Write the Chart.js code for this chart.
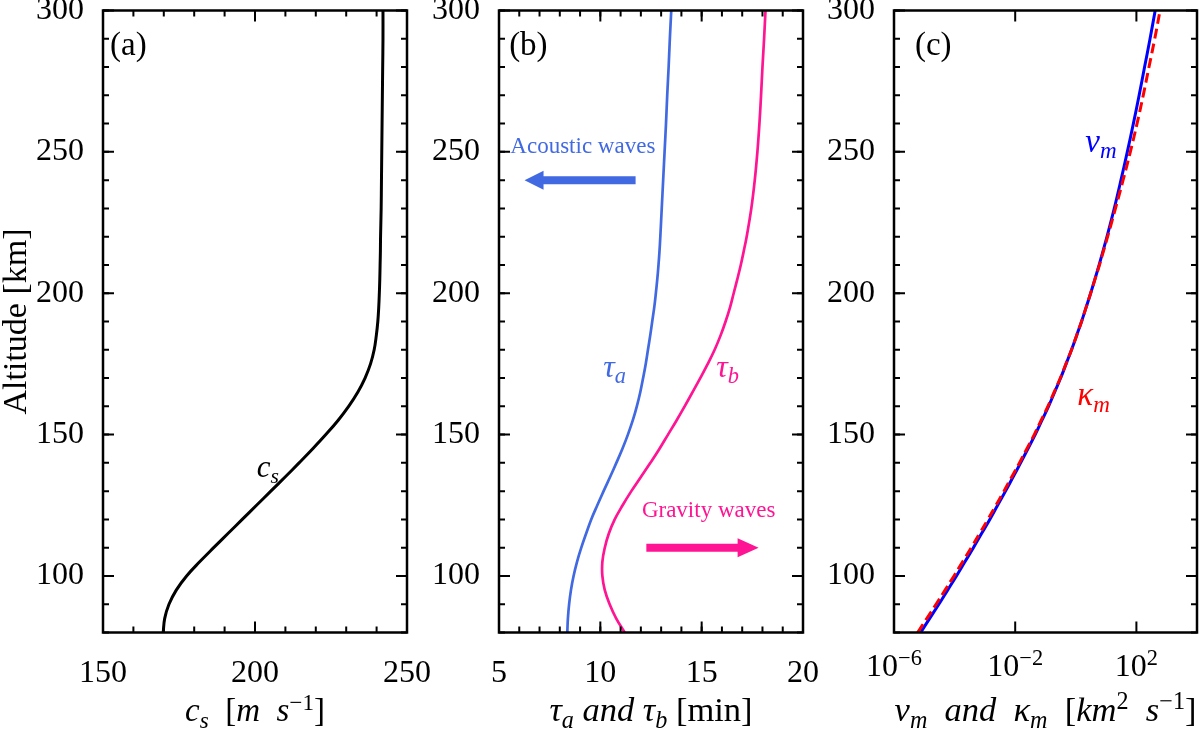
<!DOCTYPE html>
<html>
<head>
<meta charset="utf-8">
<script src="https://cdn.jsdelivr.net/npm/chart.js@4.4.1/dist/chart.umd.min.js"></script>
<style>
  html, body { margin: 0; padding: 0; background: #fff; }
  #wrap { position: relative; width: 1200px; height: 733px; overflow: hidden; }
  canvas { position: absolute; left: 0; top: 0; }
</style>
</head>
<body>
<div id="wrap">
  <canvas id="chartA" width="1200" height="733"></canvas>
  <canvas id="chartB" width="1200" height="733"></canvas>
  <canvas id="chartC" width="1200" height="733"></canvas>
</div>
<script>
// altitude grid [km]
const altitude = [80, 85, 90, 95, 100, 105, 110, 115, 120, 125, 130, 135, 140, 145, 150,
                  155, 160, 165, 170, 175, 180, 185, 190, 195, 200, 205, 210, 215, 220,
                  230, 240, 250, 260, 270, 280, 290, 300]

// (a) sound speed [m/s]
const soundSpeed = [169.8, 170.3, 171.7, 174.1, 177.5, 181.8, 186.4, 191.1, 195.8, 200.5, 205.2, 209.9, 214.5, 219.0, 223.3,
                    227.3, 230.8, 233.8, 236.2, 238.0, 239.2, 239.9, 240.4, 240.7, 240.9, 241.05, 241.15, 241.25, 241.3,
                    241.5, 241.6, 241.7, 241.8, 241.9, 242.0, 242.1, 242.1]

// (b) acoustic cut-off and buoyancy periods [min]
const tauA = [8.37, 8.40, 8.46, 8.55, 8.68, 8.85, 9.06, 9.30, 9.55, 9.85, 10.16, 10.48, 10.79, 11.09, 11.36,
              11.60, 11.80, 11.97, 12.11, 12.24, 12.35, 12.46, 12.56, 12.66, 12.74, 12.81, 12.87, 12.92, 12.96,
              13.03, 13.10, 13.17, 13.24, 13.30, 13.37, 13.43, 13.50]
const tauB = [11.20, 10.78, 10.46, 10.22, 10.10, 10.10, 10.22, 10.42, 10.71, 11.10, 11.53, 12.00, 12.47, 12.92, 13.34,
              13.76, 14.16, 14.55, 14.93, 15.30, 15.64, 15.93, 16.18, 16.40, 16.58, 16.76, 16.93, 17.08, 17.22,
              17.45, 17.62, 17.75, 17.85, 17.93, 18.00, 18.08, 18.15]

// (c) molecular viscosity and thermal diffusivity [km^2/s]
const nuM = [7.6e-6, 1.51e-5, 3.02e-5, 5.89e-5, 1.15e-4, 2.19e-4, 4.17e-4, 7.76e-4, 1.45e-3, 2.63e-3, 4.79e-3, 8.51e-3, 0.0151, 0.0263, 0.0457,
             0.0759, 0.126, 0.200, 0.316, 0.479, 0.724, 1.06, 1.55, 2.19, 3.09, 4.27, 5.89, 7.94, 10.7,
             18.6, 30.9, 50.1, 79.4, 123, 186, 282, 417]
const kappaM = [6.03e-6, 1.22e-5, 2.45e-5, 4.84e-5, 9.55e-5, 1.84e-4, 3.55e-4, 6.68e-4, 1.26e-3, 2.32e-3, 4.27e-3, 7.67e-3, 0.0138, 0.0243, 0.0427,
                0.0716, 0.120, 0.193, 0.309, 0.473, 0.724, 1.06, 1.55, 2.19, 3.09, 4.32, 6.03, 8.22, 11.2,
                20.4, 36.3, 63.1, 105, 168, 260, 403, 603]

// tick labels
const altTicks = [100, 150, 200, 250, 300]
const speedTicks = [150, 200, 250]
const periodTicks = [5, 10, 15, 20]
const diffTicks = [1e-6, 1e-2, 1e2]

const SERIF = '"Liberation Serif", "DejaVu Serif", serif'
const BLUE = '#4169e1'
const PINK = '#ff1493'
Chart.defaults.font.family = SERIF

const range = (a, b, s) => { const r = []; for (let v = a; v <= b + 1e-9; v += s) r.push(v); return r }

// text with italic / sub / superscript pieces
function drawRich(ctx, parts, x, y, size, color, align) {
  const items = parts.map(([t, f = '']) => {
    const small = f.includes('_') || f.includes('^')
    const s = small ? size * 0.7 : size
    const font = (f.includes('i') ? 'italic ' : '') + s + 'px ' + SERIF
    ctx.font = font
    const dy = f.includes('_') ? size * 0.2 : f.includes('^') ? -size * 0.34 : 0
    return { t, font, dy, w: ctx.measureText(t).width }
  })
  const total = items.reduce((s, it) => s + it.w, 0)
  let cx = align === 'center' ? x - total / 2 : x
  ctx.fillStyle = color
  ctx.textAlign = 'left'
  ctx.textBaseline = 'alphabetic'
  for (const it of items) {
    ctx.font = it.font
    ctx.fillText(it.t, cx, y + it.dy)
    cx += it.w
  }
}

// frame, inward ticks, arrows and text notes
const decorPlugin = {
  id: 'decor',
  afterDatasetsDraw(chart, args, opts) {
    const { ctx, chartArea: a, scales: { x, y } } = chart
    ctx.save()
    ctx.strokeStyle = '#000'
    ctx.lineWidth = 2

    const hTick = (v, len) => {
      const px = x.getPixelForValue(v)
      ctx.beginPath()
      ctx.moveTo(px, a.bottom); ctx.lineTo(px, a.bottom - len)
      ctx.moveTo(px, a.top); ctx.lineTo(px, a.top + len)
      ctx.stroke()
    }
    const vTick = (v, len) => {
      const py = y.getPixelForValue(v)
      ctx.beginPath()
      ctx.moveTo(a.left, py); ctx.lineTo(a.left + len, py)
      ctx.moveTo(a.right, py); ctx.lineTo(a.right - len, py)
      ctx.stroke()
    }
    ;(opts.xMinor || []).forEach(v => hTick(v, 6))
    ;(opts.xMajor || []).forEach(v => hTick(v, 11))
    ;(opts.yMinor || []).forEach(v => vTick(v, 6))
    ;(opts.yMajor || []).forEach(v => vTick(v, 11))

    ctx.lineWidth = 2.5
    ctx.strokeRect(a.left, a.top, a.right - a.left, a.bottom - a.top)

    ;(opts.arrows || []).forEach(ar => {
      const x0 = x.getPixelForValue(ar.from), x1 = x.getPixelForValue(ar.to)
      const py = y.getPixelForValue(ar.alt)
      const dir = Math.sign(x1 - x0)
      const hb = x1 - dir * ar.headL
      ctx.fillStyle = ar.color
      ctx.beginPath()
      ctx.moveTo(x0, py - ar.shaft / 2)
      ctx.lineTo(hb, py - ar.shaft / 2)
      ctx.lineTo(hb, py - ar.headW / 2)
      ctx.lineTo(x1, py)
      ctx.lineTo(hb, py + ar.headW / 2)
      ctx.lineTo(hb, py + ar.shaft / 2)
      ctx.lineTo(x0, py + ar.shaft / 2)
      ctx.closePath()
      ctx.fill()
    })

    ;(opts.notes || []).forEach(n => {
      drawRich(ctx, n.parts, x.getPixelForValue(n.x), y.getPixelForValue(n.y), n.size, n.color || '#000', 'left')
    })

    // power-of-ten tick labels for the log axis
    if (opts.logLabels) {
      x.ticks.forEach(t => {
        const e = Math.round(Math.log10(t.value))
        const parts = [['10', ''], [String(e).replace('-', '−'), '^']]
        drawRich(ctx, parts, x.getPixelForValue(t.value), 676, 32, '#000', 'center')
      })
    }

    if (opts.xTitle) {
      drawRich(ctx, opts.xTitle, (a.left + a.right) / 2, 721, opts.xTitleSize || 33, '#000', 'center')
    }
    ctx.restore()
  }
}

function yAxis(showTitle) {
  return {
    type: 'linear',
    min: 80,
    max: 300,
    afterBuildTicks: s => { s.ticks = altTicks.map(v => ({ value: v })) },
    afterFit: s => { s.width = 103; s.paddingTop = 0; s.paddingBottom = 0 },
    grid: { display: false },
    border: { display: false },
    ticks: { color: '#000', font: { family: SERIF, size: 32 }, padding: 11, autoSkip: false },
    title: {
      display: showTitle,
      text: 'Altitude [km]',
      color: '#000',
      font: { family: SERIF, size: 34, lineHeight: 1 },
      padding: { top: 0, bottom: 0 }
    }
  }
}

function xAxis(extra, tickVals, showLabels = true) {
  return Object.assign({
    type: 'linear',
    afterBuildTicks: s => { s.ticks = tickVals.map(v => ({ value: v })) },
    afterFit: s => { s.height = 100; s.paddingLeft = 0; s.paddingRight = 0 },
    grid: { display: false },
    border: { display: false },
    ticks: {
      display: showLabels,
      color: '#000', font: { family: SERIF, size: 32 }, padding: 14,
      autoSkip: false, maxRotation: 0,
      callback: v => String(v)
    }
  }, extra)
}

function makeChart(id, left, right, datasets, xScale, showYTitle, decor) {
  return new Chart(document.getElementById(id), {
    type: 'line',
    data: { datasets },
    options: {
      responsive: false,
      animation: false,
      layout: { padding: { left: left - 103, right: 1200 - right, top: 10.5, bottom: 0.5 } },
      scales: { x: xScale, y: yAxis(showYTitle) },
      plugins: { legend: { display: false }, tooltip: { enabled: false }, decor },
      elements: { point: { radius: 0 } }
    },
    plugins: [decorPlugin]
  })
}

const pts = vals => altitude.map((h, i) => ({ x: vals[i], y: h }))
const altMinor = range(80, 300, 10)

// (a)
makeChart('chartA', 103, 407, [
  { data: pts(soundSpeed), borderColor: '#000', borderWidth: 3, tension: 0.4 }
], xAxis({ min: 150, max: 250 }, speedTicks), true, {
  xMinor: range(150, 250, 10), xMajor: speedTicks, yMinor: altMinor, yMajor: altTicks,
  notes: [
    { parts: [['(a)']], x: 152.3, y: 284.3, size: 33 },
    { parts: [['c', 'i'], ['s', 'i_']], x: 200.6, y: 135, size: 31 }
  ],
  xTitle: [['c', 'i'], ['s', 'i_'], ['  [', ''], ['m', 'i'], ['  ', ''], ['s', 'i'], ['−1', '^'], [']', '']],
  xTitleSize: 33
})

// (b)
makeChart('chartB', 499, 803, [
  { data: pts(tauA), borderColor: BLUE, borderWidth: 2.7, tension: 0.4 },
  { data: pts(tauB), borderColor: PINK, borderWidth: 2.7, tension: 0.4 }
], xAxis({ min: 5, max: 20 }, periodTicks), false, {
  xMinor: range(5, 20, 1), xMajor: periodTicks, yMinor: altMinor, yMajor: altTicks,
  arrows: [
    { from: 11.74, to: 6.26, alt: 240, color: BLUE, shaft: 8, headW: 19, headL: 19 },
    { from: 12.27, to: 17.81, alt: 110, color: PINK, shaft: 8, headW: 19, headL: 21 }
  ],
  notes: [
    { parts: [['(b)']], x: 5.5, y: 284.3, size: 33 },
    { parts: [['Acoustic waves']], x: 5.56, y: 249.6, size: 23, color: BLUE },
    { parts: [['Gravity waves']], x: 12.05, y: 120.9, size: 23, color: PINK },
    { parts: [['τ', 'i'], ['a', 'i_']], x: 10.15, y: 170.4, size: 32, color: BLUE },
    { parts: [['τ', 'i'], ['b', 'i_']], x: 15.72, y: 170.4, size: 32, color: PINK }
  ],
  xTitle: [['τ', 'i'], ['a', 'i_'], [' and ', 'i'], ['τ', 'i'], ['b', 'i_'], [' [min]', '']],
  xTitleSize: 34.5
})

// (c)
makeChart('chartC', 894, 1197, [
  { data: pts(kappaM), borderColor: '#ff0000', borderWidth: 3, borderDash: [10, 5], tension: 0.4 },
  { data: pts(nuM), borderColor: '#0000ff', borderWidth: 3, tension: 0.4 }
], xAxis({ type: 'logarithmic', min: 1e-6, max: 1e4 }, diffTicks, false), false, {
  xMajor: diffTicks, yMinor: altMinor, yMajor: altTicks, logLabels: true,
  notes: [
    { parts: [['(c)']], x: 4.9e-6, y: 284.3, size: 33 },
    { parts: [['ν', 'i'], ['m', 'i_']], x: 2.07, y: 250, size: 33, color: '#0000ff' },
    { parts: [['κ', 'i'], ['m', 'i_']], x: 1.12, y: 160.5, size: 33, color: '#ff0000' }
  ],
  xTitle: [['ν', 'i'], ['m', 'i_'], ['  and  ', 'i'], ['κ', 'i'], ['m', 'i_'], ['  [', ''], ['km', 'i'], ['2', '^'], ['  ', ''], ['s', 'i'], ['−1', '^'], [']', '']],
  xTitleSize: 34.5
})
</script>
</body>
</html>
